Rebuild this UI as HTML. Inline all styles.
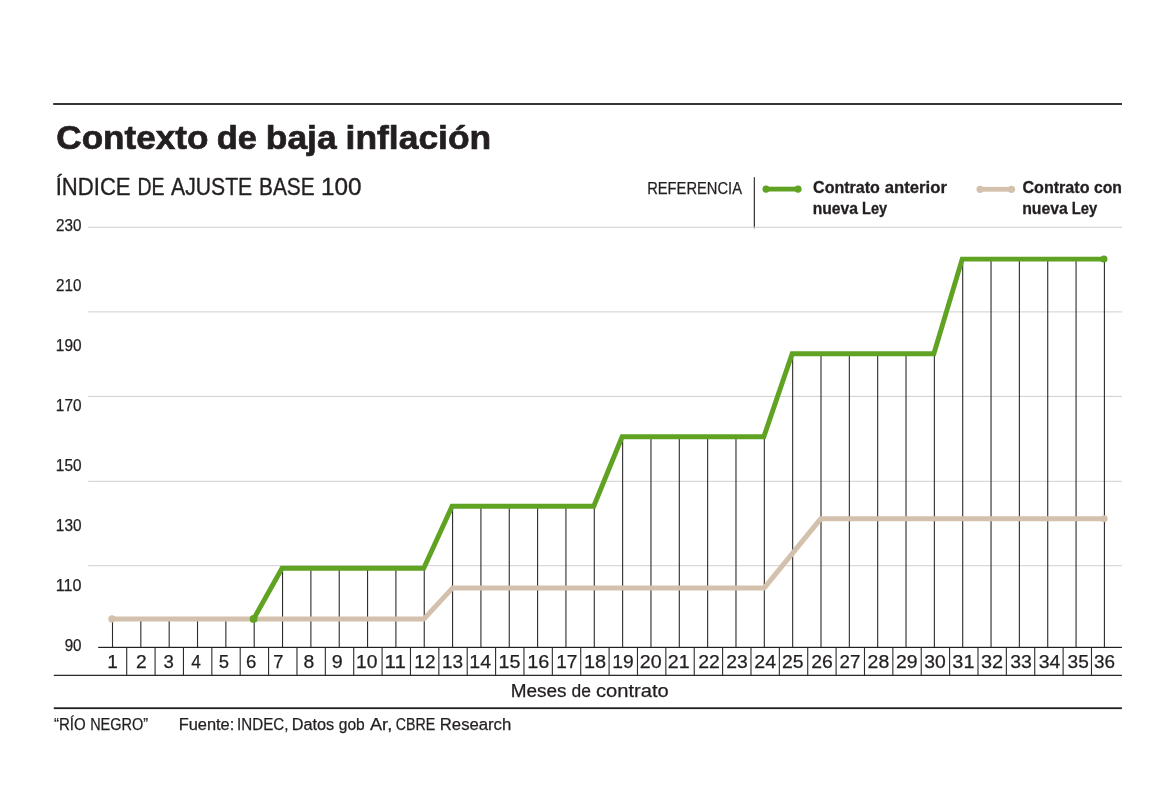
<!DOCTYPE html>
<html lang="es"><head><meta charset="utf-8"><title>Contexto de baja inflación</title>
<style>html,body{margin:0;padding:0;background:#fff}body{width:1171px;height:799px;overflow:hidden}svg{display:block}text{font-family:"Liberation Sans",sans-serif;fill:#231f20}.b{font-weight:bold}</style>
</head><body>
<svg width="1171" height="799" viewBox="0 0 1171 799">
<rect width="1171" height="799" fill="#fff"/>
<rect x="53.2" y="103.1" width="1068.8" height="1.8" fill="#231f20"/>
<rect x="753.75" y="177.2" width="1.2" height="51.1" fill="#343233"/>
<line x1="766" y1="189.1" x2="798" y2="189.1" stroke="#60a222" stroke-width="4.8"/>
<circle cx="766" cy="189.1" r="3.6" fill="#60a222"/><circle cx="798" cy="189.1" r="3.6" fill="#60a222"/>
<line x1="980" y1="189.3" x2="1011.6" y2="189.3" stroke="#d3c1ae" stroke-width="4.8"/>
<circle cx="980.1" cy="189.3" r="3.6" fill="#d3c1ae"/><circle cx="1011.5" cy="189.3" r="3.6" fill="#d3c1ae"/>
<rect x="88.2" y="226.8" width="1033.8" height="1" fill="#d0d0d2"/>
<rect x="88.2" y="311.4" width="1033.8" height="1" fill="#d0d0d2"/>
<rect x="88.2" y="395.9" width="1033.8" height="1" fill="#d0d0d2"/>
<rect x="88.2" y="480.8" width="1033.8" height="1" fill="#d0d0d2"/>
<rect x="88.2" y="565.2" width="1033.8" height="1" fill="#d0d0d2"/>
<rect x="111.95" y="618.9" width="1.1" height="28.5" fill="#2d2b2c"/>
<rect x="140.29" y="618.9" width="1.1" height="28.5" fill="#2d2b2c"/>
<rect x="168.63" y="618.9" width="1.1" height="28.5" fill="#2d2b2c"/>
<rect x="196.97" y="618.9" width="1.1" height="28.5" fill="#2d2b2c"/>
<rect x="225.31" y="618.9" width="1.1" height="28.5" fill="#2d2b2c"/>
<rect x="253.65" y="618.9" width="1.1" height="28.5" fill="#2d2b2c"/>
<rect x="281.99" y="568.2" width="1.1" height="79.2" fill="#2d2b2c"/>
<rect x="310.33" y="568.2" width="1.1" height="79.2" fill="#2d2b2c"/>
<rect x="338.67" y="568.2" width="1.1" height="79.2" fill="#2d2b2c"/>
<rect x="367.01" y="568.2" width="1.1" height="79.2" fill="#2d2b2c"/>
<rect x="395.35" y="568.2" width="1.1" height="79.2" fill="#2d2b2c"/>
<rect x="423.69" y="568.2" width="1.1" height="79.2" fill="#2d2b2c"/>
<rect x="452.03" y="506.2" width="1.1" height="141.2" fill="#2d2b2c"/>
<rect x="480.37" y="506.2" width="1.1" height="141.2" fill="#2d2b2c"/>
<rect x="508.71" y="506.2" width="1.1" height="141.2" fill="#2d2b2c"/>
<rect x="537.05" y="506.2" width="1.1" height="141.2" fill="#2d2b2c"/>
<rect x="565.39" y="506.2" width="1.1" height="141.2" fill="#2d2b2c"/>
<rect x="593.73" y="506.2" width="1.1" height="141.2" fill="#2d2b2c"/>
<rect x="622.07" y="436.8" width="1.1" height="210.6" fill="#2d2b2c"/>
<rect x="650.41" y="436.8" width="1.1" height="210.6" fill="#2d2b2c"/>
<rect x="678.75" y="436.8" width="1.1" height="210.6" fill="#2d2b2c"/>
<rect x="707.09" y="436.8" width="1.1" height="210.6" fill="#2d2b2c"/>
<rect x="735.43" y="436.8" width="1.1" height="210.6" fill="#2d2b2c"/>
<rect x="763.77" y="436.8" width="1.1" height="210.6" fill="#2d2b2c"/>
<rect x="792.11" y="353.8" width="1.1" height="293.6" fill="#2d2b2c"/>
<rect x="820.45" y="353.8" width="1.1" height="293.6" fill="#2d2b2c"/>
<rect x="848.79" y="353.8" width="1.1" height="293.6" fill="#2d2b2c"/>
<rect x="877.13" y="353.8" width="1.1" height="293.6" fill="#2d2b2c"/>
<rect x="905.47" y="353.8" width="1.1" height="293.6" fill="#2d2b2c"/>
<rect x="933.81" y="353.8" width="1.1" height="293.6" fill="#2d2b2c"/>
<rect x="962.15" y="259.1" width="1.1" height="388.3" fill="#2d2b2c"/>
<rect x="990.49" y="259.1" width="1.1" height="388.3" fill="#2d2b2c"/>
<rect x="1018.83" y="259.1" width="1.1" height="388.3" fill="#2d2b2c"/>
<rect x="1047.17" y="259.1" width="1.1" height="388.3" fill="#2d2b2c"/>
<rect x="1075.51" y="259.1" width="1.1" height="388.3" fill="#2d2b2c"/>
<rect x="1103.85" y="259.1" width="1.1" height="388.3" fill="#2d2b2c"/>
<polyline points="112.30,618.9 424.04,618.9 452.38,588.1 764.12,588.1 820.80,518.7 1104.20,518.7" fill="none" stroke="#d3c1ae" stroke-width="5" stroke-linejoin="round" stroke-linecap="round"/>
<circle cx="112.00" cy="618.9" r="3.7" fill="#d3c1ae"/><circle cx="1104.20" cy="518.7" r="3.4" fill="#d3c1ae"/>
<polyline points="253.70,618.9 282.04,568.2 423.74,568.2 452.08,506.2 593.78,506.2 622.12,436.8 763.82,436.8 792.16,353.8 933.86,353.8 962.20,259.1 1103.90,259.1" fill="none" stroke="#60a222" stroke-width="4.9" stroke-linejoin="miter" stroke-linecap="butt"/>
<circle cx="253.60" cy="618.9" r="3.9" fill="#60a222"/><circle cx="1103.90" cy="259.0" r="3.6" fill="#60a222"/>
<rect x="98.2" y="646.80" width="1023.7" height="1.2" fill="#231f20"/>
<rect x="53.8" y="674.75" width="1068.1" height="1.2" fill="#231f20"/>
<rect x="126.15" y="647.4" width="1.1" height="28.0" fill="#2d2b2c"/>
<rect x="154.53" y="647.4" width="1.1" height="28.0" fill="#2d2b2c"/>
<rect x="182.90" y="647.4" width="1.1" height="28.0" fill="#2d2b2c"/>
<rect x="211.28" y="647.4" width="1.1" height="28.0" fill="#2d2b2c"/>
<rect x="239.65" y="647.4" width="1.1" height="28.0" fill="#2d2b2c"/>
<rect x="268.03" y="647.4" width="1.1" height="28.0" fill="#2d2b2c"/>
<rect x="296.41" y="647.4" width="1.1" height="28.0" fill="#2d2b2c"/>
<rect x="324.78" y="647.4" width="1.1" height="28.0" fill="#2d2b2c"/>
<rect x="353.16" y="647.4" width="1.1" height="28.0" fill="#2d2b2c"/>
<rect x="381.53" y="647.4" width="1.1" height="28.0" fill="#2d2b2c"/>
<rect x="409.91" y="647.4" width="1.1" height="28.0" fill="#2d2b2c"/>
<rect x="438.29" y="647.4" width="1.1" height="28.0" fill="#2d2b2c"/>
<rect x="466.66" y="647.4" width="1.1" height="28.0" fill="#2d2b2c"/>
<rect x="495.04" y="647.4" width="1.1" height="28.0" fill="#2d2b2c"/>
<rect x="523.41" y="647.4" width="1.1" height="28.0" fill="#2d2b2c"/>
<rect x="551.79" y="647.4" width="1.1" height="28.0" fill="#2d2b2c"/>
<rect x="580.17" y="647.4" width="1.1" height="28.0" fill="#2d2b2c"/>
<rect x="608.54" y="647.4" width="1.1" height="28.0" fill="#2d2b2c"/>
<rect x="636.92" y="647.4" width="1.1" height="28.0" fill="#2d2b2c"/>
<rect x="665.29" y="647.4" width="1.1" height="28.0" fill="#2d2b2c"/>
<rect x="693.67" y="647.4" width="1.1" height="28.0" fill="#2d2b2c"/>
<rect x="722.05" y="647.4" width="1.1" height="28.0" fill="#2d2b2c"/>
<rect x="750.42" y="647.4" width="1.1" height="28.0" fill="#2d2b2c"/>
<rect x="778.80" y="647.4" width="1.1" height="28.0" fill="#2d2b2c"/>
<rect x="807.17" y="647.4" width="1.1" height="28.0" fill="#2d2b2c"/>
<rect x="835.55" y="647.4" width="1.1" height="28.0" fill="#2d2b2c"/>
<rect x="863.93" y="647.4" width="1.1" height="28.0" fill="#2d2b2c"/>
<rect x="892.30" y="647.4" width="1.1" height="28.0" fill="#2d2b2c"/>
<rect x="920.68" y="647.4" width="1.1" height="28.0" fill="#2d2b2c"/>
<rect x="949.05" y="647.4" width="1.1" height="28.0" fill="#2d2b2c"/>
<rect x="977.43" y="647.4" width="1.1" height="28.0" fill="#2d2b2c"/>
<rect x="1005.81" y="647.4" width="1.1" height="28.0" fill="#2d2b2c"/>
<rect x="1034.18" y="647.4" width="1.1" height="28.0" fill="#2d2b2c"/>
<rect x="1062.56" y="647.4" width="1.1" height="28.0" fill="#2d2b2c"/>
<rect x="1090.93" y="647.4" width="1.1" height="28.0" fill="#2d2b2c"/>
<rect x="53.8" y="707.3" width="1068.1" height="1.8" fill="#231f20"/>
<text id="title" class="b" y="149.00" font-size="33" stroke="#231f20" stroke-width="0.7"><tspan x="56.39" textLength="151.93" lengthAdjust="spacingAndGlyphs">Contexto</tspan> <tspan x="216.75" textLength="40.14" lengthAdjust="spacingAndGlyphs">de</tspan> <tspan x="265.86" textLength="70.73" lengthAdjust="spacingAndGlyphs">baja</tspan> <tspan x="345.64" textLength="145.56" lengthAdjust="spacingAndGlyphs">inflación</tspan></text>
<text id="sub" y="195.40" font-size="23.6" stroke="#231f20" stroke-width="0.35"><tspan x="55.71" textLength="74.86" lengthAdjust="spacingAndGlyphs">ÍNDICE</tspan> <tspan x="137.42" textLength="27.09" lengthAdjust="spacingAndGlyphs">DE</tspan> <tspan x="171.10" textLength="81.06" lengthAdjust="spacingAndGlyphs">AJUSTE</tspan> <tspan x="259.04" textLength="55.64" lengthAdjust="spacingAndGlyphs">BASE</tspan> <tspan x="320.91" textLength="40.59" lengthAdjust="spacingAndGlyphs">100</tspan></text>
<text id="ref" y="193.80" font-size="16" stroke="#231f20" stroke-width="0.25"><tspan x="647.19" textLength="94.81" lengthAdjust="spacingAndGlyphs">REFERENCIA</tspan></text>
<text id="l1a" class="b" y="193.30" font-size="16" stroke="#231f20" stroke-width="0.3"><tspan x="813.09" textLength="66.72" lengthAdjust="spacingAndGlyphs">Contrato</tspan> <tspan x="884.85" textLength="62.05" lengthAdjust="spacingAndGlyphs">anterior</tspan></text>
<text id="l1b" class="b" y="213.60" font-size="16" stroke="#231f20" stroke-width="0.3"><tspan x="812.69" textLength="45.26" lengthAdjust="spacingAndGlyphs">nueva</tspan> <tspan x="862.12" textLength="25.08" lengthAdjust="spacingAndGlyphs">Ley</tspan></text>
<text id="l2a" class="b" y="193.30" font-size="16" stroke="#231f20" stroke-width="0.3"><tspan x="1022.49" textLength="67.02" lengthAdjust="spacingAndGlyphs">Contrato</tspan> <tspan x="1093.88" textLength="28.01" lengthAdjust="spacingAndGlyphs">con</tspan></text>
<text id="l2b" class="b" y="213.60" font-size="16" stroke="#231f20" stroke-width="0.3"><tspan x="1022.19" textLength="45.66" lengthAdjust="spacingAndGlyphs">nueva</tspan> <tspan x="1071.82" textLength="25.48" lengthAdjust="spacingAndGlyphs">Ley</tspan></text>
<text id="y230" y="230.85" font-size="16" stroke="#231f20" stroke-width="0.25"><tspan x="56.12" textLength="25.41" lengthAdjust="spacingAndGlyphs">230</tspan></text>
<text id="y210" y="290.85" font-size="16" stroke="#231f20" stroke-width="0.25"><tspan x="56.12" textLength="25.41" lengthAdjust="spacingAndGlyphs">210</tspan></text>
<text id="y190" y="350.85" font-size="16" stroke="#231f20" stroke-width="0.25"><tspan x="55.84" textLength="25.69" lengthAdjust="spacingAndGlyphs">190</tspan></text>
<text id="y170" y="410.85" font-size="16" stroke="#231f20" stroke-width="0.25"><tspan x="55.84" textLength="25.69" lengthAdjust="spacingAndGlyphs">170</tspan></text>
<text id="y150" y="470.85" font-size="16" stroke="#231f20" stroke-width="0.25"><tspan x="55.84" textLength="25.69" lengthAdjust="spacingAndGlyphs">150</tspan></text>
<text id="y130" y="530.85" font-size="16" stroke="#231f20" stroke-width="0.25"><tspan x="55.84" textLength="25.69" lengthAdjust="spacingAndGlyphs">130</tspan></text>
<text id="y110" y="590.85" font-size="16" stroke="#231f20" stroke-width="0.25"><tspan x="55.83" textLength="25.71" lengthAdjust="spacingAndGlyphs">110</tspan></text>
<text id="y90" y="650.85" font-size="16" stroke="#231f20" stroke-width="0.25"><tspan x="64.66" textLength="16.87" lengthAdjust="spacingAndGlyphs">90</tspan></text>
<text id="n1" y="667.60" font-size="18" stroke="#231f20" stroke-width="0.25"><tspan x="107.30" textLength="10.58" lengthAdjust="spacingAndGlyphs">1</tspan></text>
<text id="n2" y="667.60" font-size="18" stroke="#231f20" stroke-width="0.25"><tspan x="135.91" textLength="10.69" lengthAdjust="spacingAndGlyphs">2</tspan></text>
<text id="n3" y="667.60" font-size="18" stroke="#231f20" stroke-width="0.25"><tspan x="163.63" textLength="10.35" lengthAdjust="spacingAndGlyphs">3</tspan></text>
<text id="n4" y="667.60" font-size="18" stroke="#231f20" stroke-width="0.25"><tspan x="191.24" textLength="9.64" lengthAdjust="spacingAndGlyphs">4</tspan></text>
<text id="n5" y="667.60" font-size="18" stroke="#231f20" stroke-width="0.25"><tspan x="218.69" textLength="10.29" lengthAdjust="spacingAndGlyphs">5</tspan></text>
<text id="n6" y="667.60" font-size="18" stroke="#231f20" stroke-width="0.25"><tspan x="245.93" textLength="10.39" lengthAdjust="spacingAndGlyphs">6</tspan></text>
<text id="n7" y="667.60" font-size="18" stroke="#231f20" stroke-width="0.25"><tspan x="273.33" textLength="10.15" lengthAdjust="spacingAndGlyphs">7</tspan></text>
<text id="n8" y="667.60" font-size="18" stroke="#231f20" stroke-width="0.25"><tspan x="303.49" textLength="10.76" lengthAdjust="spacingAndGlyphs">8</tspan></text>
<text id="n9" y="667.60" font-size="18" stroke="#231f20" stroke-width="0.25"><tspan x="331.73" textLength="10.94" lengthAdjust="spacingAndGlyphs">9</tspan></text>
<text id="n10" y="667.60" font-size="18" stroke="#231f20" stroke-width="0.25"><tspan x="356.13" textLength="21.42" lengthAdjust="spacingAndGlyphs">10</tspan></text>
<text id="n11" y="667.60" font-size="18" stroke="#231f20" stroke-width="0.25"><tspan x="384.60" textLength="21.35" lengthAdjust="spacingAndGlyphs">11</tspan></text>
<text id="n12" y="667.60" font-size="18" stroke="#231f20" stroke-width="0.25"><tspan x="414.33" textLength="21.13" lengthAdjust="spacingAndGlyphs">12</tspan></text>
<text id="n13" y="667.60" font-size="18" stroke="#231f20" stroke-width="0.25"><tspan x="441.91" textLength="21.13" lengthAdjust="spacingAndGlyphs">13</tspan></text>
<text id="n14" y="667.60" font-size="18" stroke="#231f20" stroke-width="0.25"><tspan x="469.24" textLength="21.81" lengthAdjust="spacingAndGlyphs">14</tspan></text>
<text id="n15" y="667.60" font-size="18" stroke="#231f20" stroke-width="0.25"><tspan x="498.52" textLength="21.90" lengthAdjust="spacingAndGlyphs">15</tspan></text>
<text id="n16" y="667.60" font-size="18" stroke="#231f20" stroke-width="0.25"><tspan x="527.30" textLength="22.11" lengthAdjust="spacingAndGlyphs">16</tspan></text>
<text id="n17" y="667.60" font-size="18" stroke="#231f20" stroke-width="0.25"><tspan x="556.21" textLength="21.24" lengthAdjust="spacingAndGlyphs">17</tspan></text>
<text id="n18" y="667.60" font-size="18" stroke="#231f20" stroke-width="0.25"><tspan x="583.91" textLength="22.12" lengthAdjust="spacingAndGlyphs">18</tspan></text>
<text id="n19" y="667.60" font-size="18" stroke="#231f20" stroke-width="0.25"><tspan x="612.22" textLength="21.43" lengthAdjust="spacingAndGlyphs">19</tspan></text>
<text id="n20" y="667.60" font-size="18" stroke="#231f20" stroke-width="0.25"><tspan x="639.81" textLength="21.84" lengthAdjust="spacingAndGlyphs">20</tspan></text>
<text id="n21" y="667.60" font-size="18" stroke="#231f20" stroke-width="0.25"><tspan x="667.88" textLength="21.93" lengthAdjust="spacingAndGlyphs">21</tspan></text>
<text id="n22" y="667.60" font-size="18" stroke="#231f20" stroke-width="0.25"><tspan x="698.19" textLength="21.62" lengthAdjust="spacingAndGlyphs">22</tspan></text>
<text id="n23" y="667.60" font-size="18" stroke="#231f20" stroke-width="0.25"><tspan x="726.27" textLength="21.54" lengthAdjust="spacingAndGlyphs">23</tspan></text>
<text id="n24" y="667.60" font-size="18" stroke="#231f20" stroke-width="0.25"><tspan x="754.31" textLength="21.82" lengthAdjust="spacingAndGlyphs">24</tspan></text>
<text id="n25" y="667.60" font-size="18" stroke="#231f20" stroke-width="0.25"><tspan x="781.99" textLength="21.60" lengthAdjust="spacingAndGlyphs">25</tspan></text>
<text id="n26" y="667.60" font-size="18" stroke="#231f20" stroke-width="0.25"><tspan x="811.19" textLength="21.62" lengthAdjust="spacingAndGlyphs">26</tspan></text>
<text id="n27" y="667.60" font-size="18" stroke="#231f20" stroke-width="0.25"><tspan x="839.57" textLength="20.85" lengthAdjust="spacingAndGlyphs">27</tspan></text>
<text id="n28" y="667.60" font-size="18" stroke="#231f20" stroke-width="0.25"><tspan x="867.58" textLength="21.63" lengthAdjust="spacingAndGlyphs">28</tspan></text>
<text id="n29" y="667.60" font-size="18" stroke="#231f20" stroke-width="0.25"><tspan x="895.99" textLength="21.62" lengthAdjust="spacingAndGlyphs">29</tspan></text>
<text id="n30" y="667.60" font-size="18" stroke="#231f20" stroke-width="0.25"><tspan x="924.26" textLength="21.48" lengthAdjust="spacingAndGlyphs">30</tspan></text>
<text id="n31" y="667.60" font-size="18" stroke="#231f20" stroke-width="0.25"><tspan x="952.36" textLength="22.14" lengthAdjust="spacingAndGlyphs">31</tspan></text>
<text id="n32" y="667.60" font-size="18" stroke="#231f20" stroke-width="0.25"><tspan x="980.97" textLength="22.13" lengthAdjust="spacingAndGlyphs">32</tspan></text>
<text id="n33" y="667.60" font-size="18" stroke="#231f20" stroke-width="0.25"><tspan x="1010.16" textLength="21.64" lengthAdjust="spacingAndGlyphs">33</tspan></text>
<text id="n34" y="667.60" font-size="18" stroke="#231f20" stroke-width="0.25"><tspan x="1038.67" textLength="21.75" lengthAdjust="spacingAndGlyphs">34</tspan></text>
<text id="n35" y="667.60" font-size="18" stroke="#231f20" stroke-width="0.25"><tspan x="1067.55" textLength="21.25" lengthAdjust="spacingAndGlyphs">35</tspan></text>
<text id="n36" y="667.60" font-size="18" stroke="#231f20" stroke-width="0.25"><tspan x="1093.97" textLength="21.03" lengthAdjust="spacingAndGlyphs">36</tspan></text>
<text id="meses" y="696.50" font-size="17.5" stroke="#231f20" stroke-width="0.25"><tspan x="510.70" textLength="55.82" lengthAdjust="spacingAndGlyphs">Meses</tspan> <tspan x="571.56" textLength="19.38" lengthAdjust="spacingAndGlyphs">de</tspan> <tspan x="596.03" textLength="72.73" lengthAdjust="spacingAndGlyphs">contrato</tspan></text>
<text id="rio" y="729.70" font-size="16" stroke="#231f20" stroke-width="0.25"><tspan x="53.98" textLength="31.74" lengthAdjust="spacingAndGlyphs">“RÍO</tspan> <tspan x="90.17" textLength="57.94" lengthAdjust="spacingAndGlyphs">NEGRO”</tspan></text>
<text id="fuente" y="729.70" font-size="16" stroke="#231f20" stroke-width="0.25"><tspan x="178.69" textLength="55.62" lengthAdjust="spacingAndGlyphs">Fuente:</tspan> <tspan x="237.09" textLength="51.33" lengthAdjust="spacingAndGlyphs">INDEC,</tspan> <tspan x="291.69" textLength="42.53" lengthAdjust="spacingAndGlyphs">Datos</tspan> <tspan x="338.78" textLength="25.94" lengthAdjust="spacingAndGlyphs">gob</tspan> <tspan x="370.00" textLength="22.21" lengthAdjust="spacingAndGlyphs">Ar,</tspan> <tspan x="395.68" textLength="39.43" lengthAdjust="spacingAndGlyphs">CBRE</tspan> <tspan x="439.81" textLength="71.42" lengthAdjust="spacingAndGlyphs">Research</tspan></text>
</svg></body></html>
